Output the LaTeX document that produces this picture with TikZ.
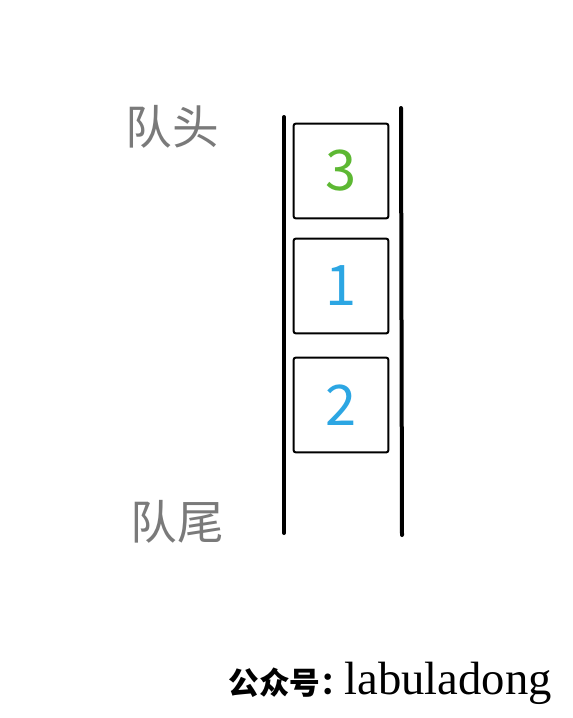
\documentclass[tikz,border=0pt]{standalone}
\usepackage{fontspec}
\newfontfamily\cjk{Noto Sans CJK SC}
\setmainfont{Liberation Serif}
\definecolor{labelgray}{HTML}{7A7A7A}
\definecolor{numgreen}{HTML}{5DB833}
\definecolor{numblue}{HTML}{2CA6E3}
\tikzset{
  wall/.style={line width=3pt,line cap=round},
  slot/.style={draw,line width=1.5pt,rounded corners=1.5pt,minimum width=71pt,minimum height=71pt,inner sep=0pt},
  endlabel/.style={text=labelgray,font=\cjk\fontsize{35}{35}\selectfont,inner sep=0pt},
  num/.style={font=\cjk\fontsize{42}{42}\selectfont,inner sep=0pt}
}
\begin{document}
\begin{tikzpicture}[x=0.75pt,y=-0.75pt]
\useasboundingbox[fill=white] (0,0) rectangle (572,718);
% the two walls of the queue
\coordinate (lt) at (284,117);
\coordinate (lb) at (284,533);
\coordinate (rt) at (401,108);
\coordinate (rb) at (402,535);
\draw[wall] (lt) -- (lb);
\draw[wall] (rt) -- (rb);
% elements, head first
\foreach \n/\y/\v/\c in {a/171/3/numgreen,b/286/1/numblue,c/405/2/numblue}
{
  \node[slot] (\n) at (341,\y) {};
  \node[num,text=\c] (\n v) at (\n) {\v};
}
\node[endlabel] (head) at (172,127) {队头};
\node[endlabel] (tail) at (177,522) {队尾};
\node[inner sep=0pt,anchor=east] (wx) at (552,683)
  {{\cjk\bfseries\fontsize{23}{23}\selectfont 公众号：}\hspace{-5pt}{\fontsize{35}{35}\selectfont labuladong}};
\end{tikzpicture}
\end{document}
